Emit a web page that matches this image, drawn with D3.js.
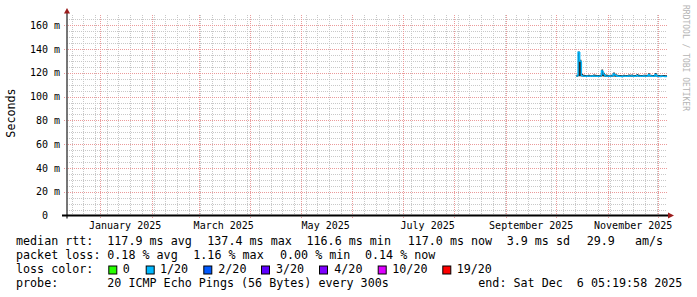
<!DOCTYPE html>
<html><head><meta charset="utf-8">
<script src="https://cdn.jsdelivr.net/npm/d3@7"></script>
<style>
html,body{margin:0;padding:0;background:#fff;}
svg{display:block;}
text{font-family:"DejaVu Sans Mono",monospace;white-space:pre;fill:#000;}
</style></head><body><svg id="c" width="697" height="297"></svg>
<script>
// ---------- data ----------
const endTime = "2025-12-06T05:19:58Z";
const spanDays = 359;
const yMax = 168.6;
const yTickValues = [0, 20, 40, 60, 80, 100, 120, 140, 160];
const yTickLabels = ["0  ", "20 m", "40 m", "60 m", "80 m", "100 m", "120 m", "140 m", "160 m"];
const monthLabels = ["January 2025", "March 2025", "May 2025", "July 2025", "September 2025", "November 2025"];
const monthLabelDates = ["2025-01-16", "2025-03-16", "2025-05-16", "2025-07-16", "2025-09-16", "2025-11-16"];
const dataStart = "2025-10-13";
const medianRtt = [117.3,137.4,129.8,117.6,117.2,117.0,117.1,117.2,117.0,117.1,
                   117.3,117.2,117.1,117.0,117.2,121.6,118.9,117.4,117.2,117.1,
                   117.3,117.2,119.0,118.2,117.3,117.1,117.0,116.9,117.2,117.1,
                   117.0,117.3,117.2,117.4,117.1,117.0,117.8,117.2,117.1,117.0,
                   117.3,117.2,117.1,118.4,117.3,117.1,117.0,118.6,117.2,117.0,
                   116.9,117.1,117.0,116.8,117.0];
const smokeLo =   [116.6,117.0,117.2,116.8,116.7,116.5,116.6,116.6,116.5,116.6,
                   116.7,116.6,116.6,116.5,116.6,117.0,116.9,116.7,116.6,116.6,
                   116.7,116.6,116.8,116.7,116.6,116.6,116.5,116.4,116.6,116.6,
                   116.5,116.7,116.6,116.7,116.6,116.5,116.8,116.6,116.6,116.5,
                   116.7,116.6,116.6,116.8,116.7,116.6,116.5,116.8,116.6,116.5,
                   116.4,116.6,116.5,116.4,116.5];
const smokeHi =   [118.4,137.9,131.0,118.9,118.3,118.1,118.2,118.4,118.0,118.2,
                   118.5,118.3,118.2,118.1,118.4,122.8,120.1,118.6,118.3,118.2,
                   118.4,118.3,120.2,119.3,118.4,118.2,118.1,118.0,118.3,118.2,
                   118.1,118.5,118.3,118.6,118.2,118.1,119.0,118.3,118.2,118.1,
                   118.4,118.3,118.2,119.6,118.4,118.2,118.1,119.8,118.3,118.1,
                   118.0,118.2,118.1,117.9,118.1];
const lossPings = [0.05,0.23,0.12,0.04,0.03,0.02,0.03,0.04,0.02,0.03,
                   0.03,0.04,0.02,0.03,0.03,0.08,0.05,0.03,0.02,0.03,
                   0.04,0.03,0.06,0.04,0.03,0.02,0.03,0.02,0.03,0.04,
                   0.02,0.03,0.03,0.04,0.02,0.03,0.05,0.03,0.02,0.03,
                   0.03,0.04,0.02,0.05,0.03,0.02,0.03,0.06,0.03,0.02,
                   0.03,0.02,0.03,0.02,0.03];
const lossThresholds = [0, 1, 2, 3, 4, 10, 19];
const lossColors = ["#26ff00", "#00b8ff", "#0059ff", "#5e00ff", "#7e00ff", "#dd00ff", "#ff0000"];
const lossLabels = ["0", "1/20", "2/20", "3/20", "4/20", "10/20", "19/20"];
const rttRow = ["median rtt:", "117.9 ms avg", "137.4 ms max", "116.6 ms min", "117.0 ms now", "3.9 ms sd", "29.9", "am/s"];
const lossRow = ["packet loss:", "0.18 % avg", "1.16 % max", "0.00 % min", "0.14 % now"];
const probeRow = ["probe:", "20 ICMP Echo Pings (56 Bytes) every 300s", "end: Sat Dec  6 05:19:58 2025"];

// ---------- layout ----------
const L = 67, R = 667, T = 15, B = 215.5;
const svg = d3.select("#c");
svg.append("rect").attr("width", 697).attr("height", 297).attr("fill", "#fff");

const end = new Date(endTime);
const start = new Date(end.getTime() - spanDays * 86400000);
const x = d3.scaleUtc().domain([start, end]).range([L, R]);
const y = d3.scaleLinear().domain([0, yMax]).range([B, T]);
const px = v => Math.round(v) + 0.5;

const grid = svg.append("g");
d3.range(0, yMax, 5).filter(v => v % 20 !== 0).forEach(v => {
  grid.append("line").attr("x1", L).attr("x2", R).attr("y1", px(y(v))).attr("y2", px(y(v)))
    .attr("stroke", "#c8c8c8").attr("stroke-dasharray", "1,1");
});
d3.utcSunday.range(start, end).forEach(d => {
  grid.append("line").attr("x1", px(x(d))).attr("x2", px(x(d))).attr("y1", T).attr("y2", B)
    .attr("stroke", "#c8c8c8").attr("stroke-dasharray", "1,1");
});
d3.utcMonth.range(d3.utcMonth.ceil(start), end).forEach(d => {
  grid.append("line").attr("x1", px(x(d))).attr("x2", px(x(d))).attr("y1", T).attr("y2", B + 3)
    .attr("stroke", "#eb9a9a").attr("stroke-dasharray", "1,1");
});
yTickValues.forEach(v => {
  if (v === 0) return;
  grid.append("line").attr("x1", L - 3).attr("x2", R).attr("y1", px(y(v))).attr("y2", px(y(v)))
    .attr("stroke", "#eb9a9a").attr("stroke-dasharray", "1,1");
});

yTickValues.forEach((v, i) => {
  svg.append("text").attr("x", 60).attr("y", y(v) + 3.6).attr("text-anchor", "end")
    .attr("font-size", 10).text(yTickLabels[i]);
});
monthLabels.forEach((t, i) => {
  svg.append("text").attr("x", x(new Date(monthLabelDates[i] + "T00:00:00Z"))).attr("y", 228.5)
    .attr("text-anchor", "middle").attr("font-size", 10).text(t);
});

// ---------- data ----------
const d0 = new Date(dataStart + "T00:00:00Z");
const pts = medianRtt.map((m, i) => ({
  t: d3.utcDay.offset(d0, i),
  t2: i < medianRtt.length - 1 ? d3.utcDay.offset(d0, i + 1) : end,
  m, lo: smokeLo[i], hi: smokeHi[i], loss: lossPings[i]
}));
const smokeArea = d3.area().curve(d3.curveStepAfter)
  .x(d => x(d.t)).y0(d => y(d.lo)).y1(d => y(d.hi));
svg.append("path").datum(pts.concat([{t: end, lo: pts[pts.length-1].lo, hi: pts[pts.length-1].hi}]))
  .attr("d", smokeArea).attr("fill", "#2a2a2a");
const seg = d3.line().x(d => x(d[0])).y(d => y(d[1]));
pts.forEach((p, i) => {
  const prev = i > 0 ? pts[i - 1].m : p.m;
  const ci = d3.bisectLeft(lossThresholds, p.loss);
  svg.append("path").attr("d", seg([[p.t, prev], [p.t, p.m], [p.t2, p.m]]))
    .attr("fill", "none").attr("stroke", lossColors[ci]).attr("stroke-width", 1.4);
});

// ---------- axes ----------
svg.append("line").attr("x1", L).attr("x2", L).attr("y1", 10).attr("y2", B + 3)
  .attr("stroke", "#555").attr("stroke-width", 1.6);
svg.append("line").attr("x1", L - 5).attr("x2", R + 2).attr("y1", B).attr("y2", B)
  .attr("stroke", "#000").attr("stroke-width", 1.8);
svg.append("path").attr("d", `M${L - 3},13.5 L${L},8 L${L + 3},13.5 Z`).attr("fill", "#9b1c1c");
svg.append("path").attr("d", `M${R + 1},${B - 3} L${R + 7},${B} L${R + 1},${B + 3} Z`).attr("fill", "#9b1c1c");

svg.append("text").attr("transform", "translate(15,113) rotate(-90)").attr("text-anchor", "middle")
  .attr("font-size", 11.7).text("Seconds");
svg.append("text").attr("transform", "translate(683,5) rotate(90)").attr("font-size", 8)
  .style("fill", "#b4b4b4").text("RRDTOOL / TOBI OETIKER");

// ---------- legend ----------
const fs = 11.7;
const rttX = [16, 107.3, 207.3, 306.5, 407.7, 506.7, 586.7, 635];
rttRow.forEach((t, i) => svg.append("text").attr("x", rttX[i]).attr("y", 245).attr("font-size", fs).text(t));
const lossX = [16, 107.3, 193.3, 280, 365];
lossRow.forEach((t, i) => svg.append("text").attr("x", lossX[i]).attr("y", 259).attr("font-size", fs).text(t));
svg.append("text").attr("x", 16).attr("y", 273).attr("font-size", fs).text("loss color:");
const boxX = [108.3, 145.7, 203.3, 261, 319, 377.7, 442.3];
const boxTextX = [122.7, 160, 218.3, 276, 334.3, 392.3, 456.7];
lossLabels.forEach((t, i) => {
  svg.append("rect").attr("x", boxX[i] + 0.5).attr("y", 266).attr("width", 8).attr("height", 8)
    .attr("fill", lossColors[i]).attr("stroke", "#000").attr("stroke-width", 1);
  svg.append("text").attr("x", boxTextX[i]).attr("y", 273).attr("font-size", fs).text(t);
});
const probeX = [16, 107.3, 478.3];
probeRow.forEach((t, i) => svg.append("text").attr("x", probeX[i]).attr("y", 287).attr("font-size", fs).text(t));
</script></body></html>
